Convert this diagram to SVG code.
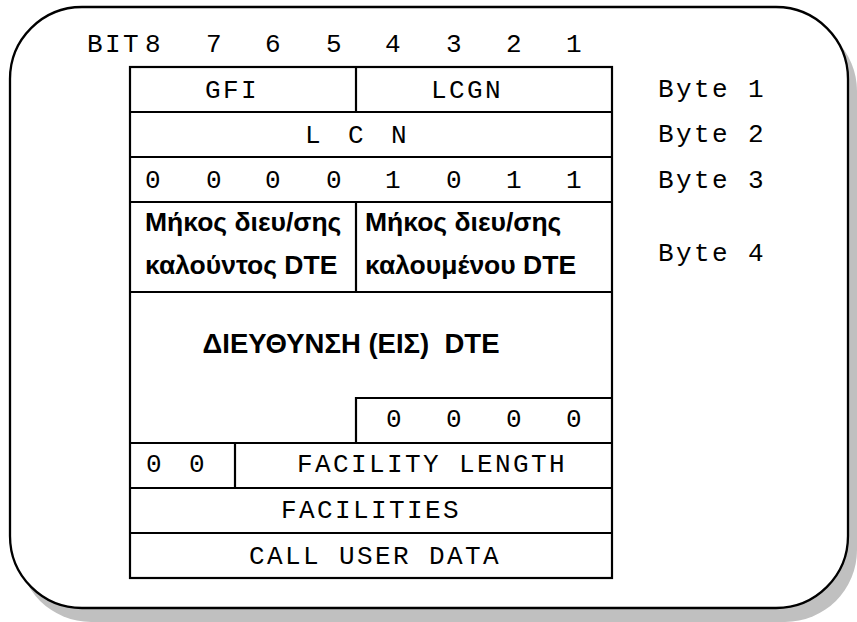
<svg xmlns="http://www.w3.org/2000/svg" width="857" height="622" viewBox="0 0 857 622">
  <style>
    .frame { fill: #ffffff; stroke: #000000; stroke-width: 2.3; }
    .shadow { fill: #c0c0c0; }
    .cell { fill: none; stroke: #000000; stroke-width: 2.2; }
    .mono { font-family: "Liberation Mono", "DejaVu Sans Mono", monospace; font-size: 26px; letter-spacing: 2.4px; fill: #000000; }
    .mid { text-anchor: middle; }
    .bold { font-family: "Liberation Sans", Arial, sans-serif; font-size: 26.5px; font-weight: bold; fill: #000000; }
    .title { font-size: 27.5px; }
  </style>

  <!-- rounded frame with drop shadow -->
  <g id="frame">
    <rect class="shadow" x="19" y="19" width="838" height="603" rx="72" ry="72"/>
    <rect class="frame" x="10" y="7" width="838" height="601" rx="72" ry="72"/>
  </g>

  <!-- bit numbering header -->
  <g id="bit-header" class="mono">
    <text x="87" y="52">BIT</text>
    <text class="mid" x="154" y="52">8</text>
    <text class="mid" x="215" y="52">7</text>
    <text class="mid" x="274" y="52">6</text>
    <text class="mid" x="335" y="52">5</text>
    <text class="mid" x="394" y="52">4</text>
    <text class="mid" x="455" y="52">3</text>
    <text class="mid" x="515" y="52">2</text>
    <text class="mid" x="575" y="52">1</text>
  </g>

  <!-- packet field grid -->
  <g id="grid" class="cell">
    <rect x="130" y="67" width="482" height="511"/>
    <line x1="130" y1="112" x2="612" y2="112"/>
    <line x1="130" y1="157" x2="612" y2="157"/>
    <line x1="130" y1="202" x2="612" y2="202"/>
    <line x1="130" y1="292" x2="612" y2="292"/>
    <line x1="130" y1="443" x2="612" y2="443"/>
    <line x1="130" y1="488" x2="612" y2="488"/>
    <line x1="130" y1="533" x2="612" y2="533"/>
    <line x1="356" y1="67" x2="356" y2="112"/>
    <line x1="356" y1="202" x2="356" y2="292"/>
    <polyline points="356,443 356,398 612,398"/>
    <line x1="235" y1="443" x2="235" y2="488"/>
  </g>

  <g id="gfi" class="mono"><text class="mid" x="232" y="98">GFI</text></g>
  <g id="lcgn" class="mono"><text class="mid" x="467" y="98">LCGN</text></g>
  <g id="lcn" class="mono">
    <text class="mid" x="314" y="143">L</text>
    <text class="mid" x="357" y="143">C</text>
    <text class="mid" x="400" y="143">N</text>
  </g>

  <g id="type-bits" class="mono">
    <text class="mid" x="154" y="188">0</text>
    <text class="mid" x="215" y="188">0</text>
    <text class="mid" x="274" y="188">0</text>
    <text class="mid" x="335" y="188">0</text>
    <text class="mid" x="394" y="188">1</text>
    <text class="mid" x="455" y="188">0</text>
    <text class="mid" x="515" y="188">1</text>
    <text class="mid" x="575" y="188">1</text>
  </g>

  <g id="calling-length" class="bold">
    <text x="145" y="231">Μήκος διευ/σης</text>
    <text x="145" y="274">καλούντος DTE</text>
  </g>
  <g id="called-length" class="bold">
    <text x="365" y="231">Μήκος διευ/σης</text>
    <text x="365" y="274">καλουμένου DTE</text>
  </g>

  <g id="address" class="bold title">
    <text class="mid" x="351" y="353" xml:space="preserve">ΔΙΕΥΘΥΝΣΗ (ΕΙΣ)  DTE</text>
  </g>

  <g id="pad-bits" class="mono">
    <text class="mid" x="395" y="427">0</text>
    <text class="mid" x="455" y="427">0</text>
    <text class="mid" x="515" y="427">0</text>
    <text class="mid" x="575" y="427">0</text>
  </g>

  <g id="facility-prefix" class="mono">
    <text class="mid" x="155" y="472">0</text>
    <text class="mid" x="198" y="472">0</text>
  </g>
  <g id="facility-length" class="mono"><text class="mid" x="432" y="472">FACILITY LENGTH</text></g>
  <g id="facilities" class="mono"><text class="mid" x="371" y="518">FACILITIES</text></g>
  <g id="call-user-data" class="mono"><text class="mid" x="375" y="564">CALL USER DATA</text></g>

  <!-- byte labels -->
  <g id="byte-labels" class="mono">
    <text x="658" y="97">Byte 1</text>
    <text x="658" y="142">Byte 2</text>
    <text x="658" y="188">Byte 3</text>
    <text x="658" y="261">Byte 4</text>
  </g>
</svg>
